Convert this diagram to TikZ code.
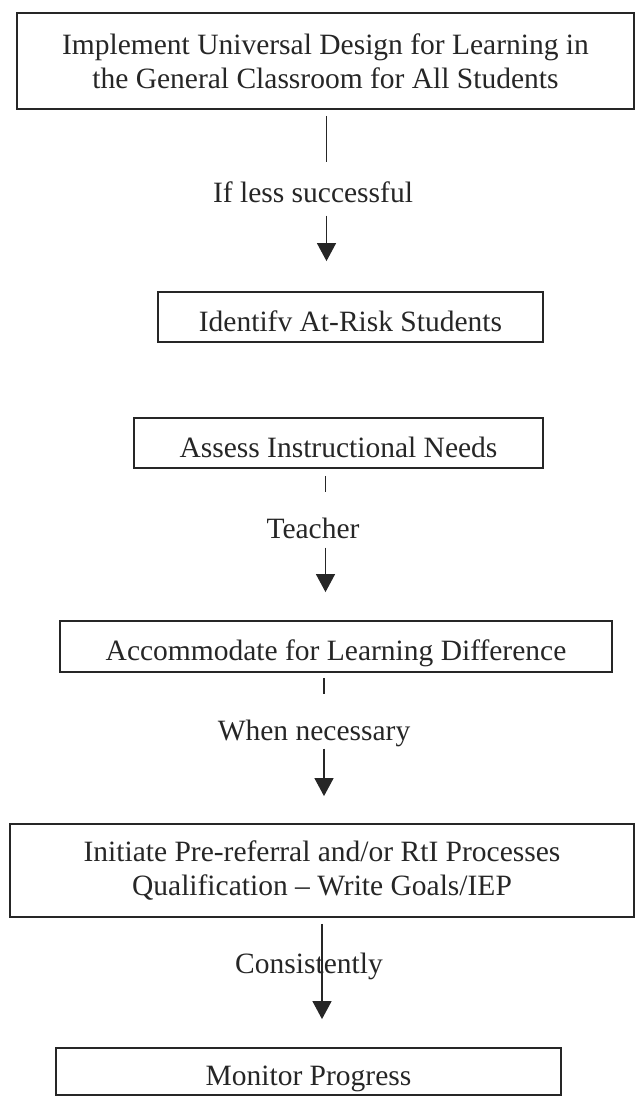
\documentclass[tikz,border=0pt]{standalone}
\usepackage{fontspec}
\setmainfont{Liberation Serif}
\usetikzlibrary{arrows.meta}

\tikzset{
  stepbox/.style={draw=black!85, line width=1.8pt, inner sep=0pt, text=black!85},
  onebox/.style={stepbox, text height=28pt, text depth=0pt},
  cond/.style={inner sep=0pt, text=black!85},
  link/.style={draw=black!85, line width=1.3pt},
  flow/.style={link, -{Triangle[length=18pt,width=19pt]}}
}

\begin{document}
\begin{tikzpicture}[x=1pt,y=-1pt,font=\fontsize{29.5}{34}\selectfont]
\useasboundingbox (0,0) rectangle (635,1099);

% boxes
\node[stepbox, minimum width=617, minimum height=96, align=center] (impl) at (325.5,61)
  {Implement Universal Design for Learning in\\the General Classroom for All Students};
\node[onebox, minimum width=385, minimum height=50] (identify) at (350.5,317) {Identifv At-Risk Students};
\node[onebox, minimum width=409, minimum height=50] (assess) at (338.5,443) {Assess Instructional Needs};
\node[onebox, minimum width=552, minimum height=51] (accommodate) at (336,646.5) {Accommodate for Learning Difference};
\node[stepbox, minimum width=624, minimum height=93, align=center] (initiate) at (322,870.5)
  {Initiate Pre-referral and/or RtI Processes\\Qualification -- Write Goals/IEP};
\node[onebox, minimum width=505, minimum height=47] (monitor) at (308.5,1071.5) {Monitor Progress};

% conditions
\node[cond] (less) at (313,192) {If less successful};
\node[cond] (teacher) at (313,528) {Teacher};
\node[cond] (when) at (314,733) {When necessary};

% columns of the connectors
\coordinate (k1) at (326.5,0);
\coordinate (k2) at (325.5,0);
\coordinate (k3) at (324,0);
\coordinate (k4) at (322,0);

\draw[link, shorten <=6, shorten >=19] (impl.south -| k1) -- (less.north -| k1);
\draw[flow, shorten <=13, shorten >=30] (less.south -| k1) -- (identify.north -| k1);

\draw[link, shorten <=7, shorten >=25] (assess.south -| k2) -- (teacher.north -| k2);
\draw[flow, shorten <=9, shorten >=28] (teacher.south -| k2) -- (accommodate.north -| k2);

\draw[link, shorten <=5, shorten >=25] (accommodate.south -| k3) -- (when.north -| k3);
\draw[flow, shorten <=2, shorten >=27] (when.south -| k3) -- (initiate.north -| k3);

\draw[flow, shorten <=6, shorten >=28] (initiate.south -| k4) -- (monitor.north -| k4);
\node[cond] (consist) at (309,966) {Consistently};
\end{tikzpicture}
\end{document}
